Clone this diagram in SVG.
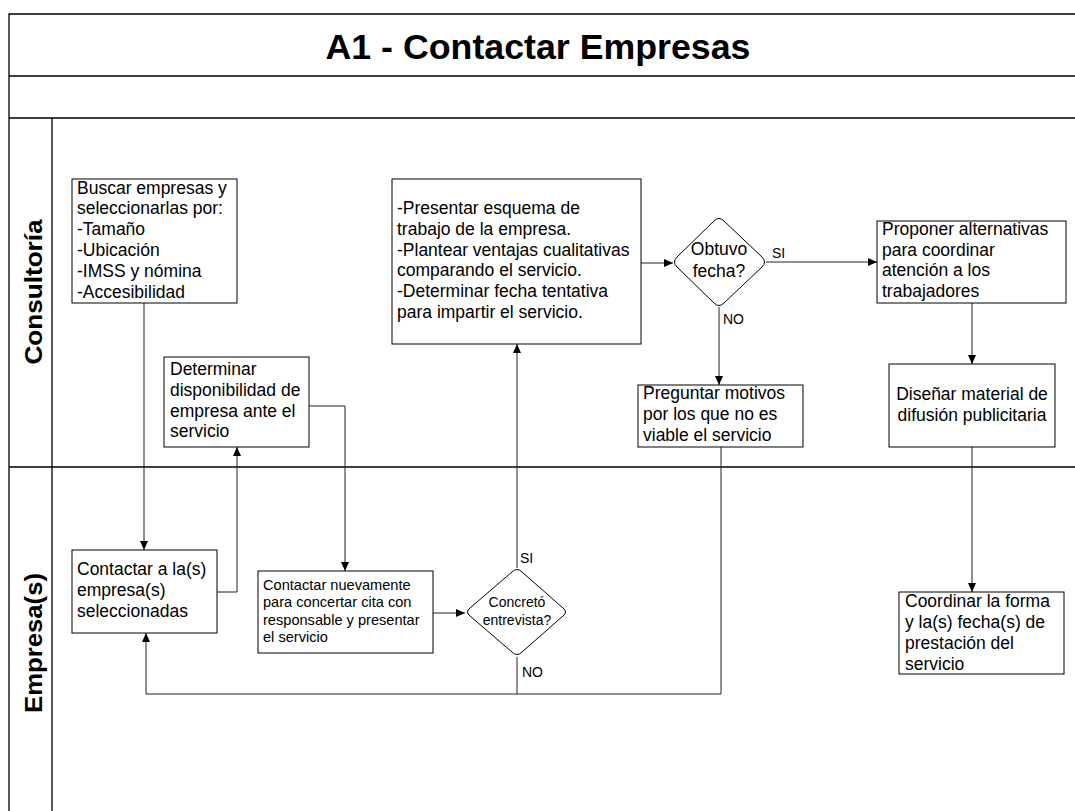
<svg xmlns="http://www.w3.org/2000/svg" width="1075" height="811" viewBox="0 0 1075 811">
<style>
.frame{stroke:#000;stroke-width:1.3;fill:none}
.box{fill:#fff;stroke:#000;stroke-width:1}
.t{font-family:"Liberation Sans",Arial,sans-serif;font-size:17.5px;fill:#000}
.s{font-family:"Liberation Sans",Arial,sans-serif;font-size:14.6px;fill:#000}
.lbl{font-family:"Liberation Sans",Arial,sans-serif;font-size:14px;fill:#000}
.lane{font-family:"Liberation Sans",Arial,sans-serif;font-size:24px;font-weight:bold;fill:#000}
.c{stroke:#222;stroke-width:1;fill:none}
.a{marker-end:url(#arr)}
</style>
<defs>
<marker id="arr" markerWidth="10" markerHeight="10" refX="9" refY="5" orient="auto" markerUnits="userSpaceOnUse">
<path d="M0,1 L9,5 L0,9 Z" fill="#000"/>
</marker>
</defs>
<rect width="1075" height="811" fill="#fff"/>
<g id="frame">
<path class="frame" d="M1075,14 H9 V811 M9,76 H1075 M9,118 H1075 M52,118 V811 M9,467 H1075"/>
<text x="538" y="59" text-anchor="middle" font-family="Liberation Sans, Arial, sans-serif" font-size="35" font-weight="bold" textLength="425" lengthAdjust="spacingAndGlyphs">A1 - Contactar Empresas</text>
<text class="lane" transform="translate(42,292) rotate(-90)" text-anchor="middle" textLength="145" lengthAdjust="spacingAndGlyphs">Consultoría</text>
<text class="lane" transform="translate(42,643) rotate(-90)" text-anchor="middle" textLength="140" lengthAdjust="spacingAndGlyphs">Empresa(s)</text>
</g>
<g id="connectors">
<path class="c a" d="M144,303 V550"/>
<path class="c a" d="M217,592 H237 V447"/>
<path class="c a" d="M309,406 H345 V571"/>
<path class="c a" d="M433,613 H465"/>
<path class="c a" d="M517,568 V344"/>
<path class="c" d="M517,657 V694"/>
<path class="c a" d="M721,447 V694 H146 V633"/>
<path class="c a" d="M641,263 H673"/>
<path class="c a" d="M766,262 H877"/>
<path class="c a" d="M719,307 V385"/>
<path class="c a" d="M972,303 V364"/>
<path class="c a" d="M972,447 V592"/>
<text class="lbl" x="772" y="258">SI</text>
<text class="lbl" x="723" y="324">NO</text>
<text class="lbl" x="520" y="563">SI</text>
<text class="lbl" x="522" y="677">NO</text>
</g>
<g id="buscar">
<rect class="box" x="72" y="179" width="165" height="124"/>
<text class="t" x="77" y="194">Buscar empresas y</text>
<text class="t" x="77" y="214">seleccionarlas por:</text>
<text class="t" x="77" y="235">-Tamaño</text>
<text class="t" x="77" y="256">-Ubicación</text>
<text class="t" x="77" y="277">-IMSS y nómina</text>
<text class="t" x="77" y="298">-Accesibilidad</text>
</g>
<g id="determinar">
<rect class="box" x="164" y="357" width="145" height="90"/>
<text class="t" x="170" y="375">Determinar</text>
<text class="t" x="170" y="396">disponibilidad de</text>
<text class="t" x="170" y="417">empresa ante el</text>
<text class="t" x="170" y="437">servicio</text>
</g>
<g id="presentar">
<rect class="box" x="392" y="179" width="249" height="165"/>
<text class="t" x="397" y="214">-Presentar esquema de</text>
<text class="t" x="397" y="235">trabajo de la empresa.</text>
<text class="t" x="397" y="256">-Plantear ventajas cualitativas</text>
<text class="t" x="397" y="276"> comparando el servicio.</text>
<text class="t" x="397" y="297">-Determinar fecha tentativa</text>
<text class="t" x="397" y="318"> para impartir el servicio.</text>
</g>
<g id="obtuvo">
<path class="box" d="M714,221 Q719,216 724,221 L762,257 Q767,262 762,267 L724,303 Q719,308 714,303 L677,267 Q672,262 677,257 Z"/>
<text class="t" x="719" y="255" text-anchor="middle">Obtuvo</text>
<text class="t" x="719" y="277" text-anchor="middle">fecha?</text>
</g>
<g id="proponer">
<rect class="box" x="877" y="221" width="189" height="82"/>
<text class="t" x="882" y="235">Proponer alternativas</text>
<text class="t" x="882" y="256">para coordinar</text>
<text class="t" x="882" y="276">atención a los</text>
<text class="t" x="882" y="297">trabajadores</text>
</g>
<g id="preguntar">
<rect class="box" x="638" y="385" width="165" height="62"/>
<text class="t" x="643" y="399">Preguntar motivos</text>
<text class="t" x="643" y="420">por los que no es</text>
<text class="t" x="643" y="441">viable el servicio</text>
</g>
<g id="disenar">
<rect class="box" x="889" y="364" width="166" height="83"/>
<text class="t" x="972" y="400" text-anchor="middle">Diseñar material de</text>
<text class="t" x="972" y="421" text-anchor="middle">difusión publicitaria</text>
</g>
<g id="contactar">
<rect class="box" x="72" y="550" width="145" height="83"/>
<text class="t" x="77" y="575">Contactar a la(s)</text>
<text class="t" x="77" y="596">empresa(s)</text>
<text class="t" x="77" y="617">seleccionadas</text>
</g>
<g id="contactar-nuevamente">
<rect class="box" x="258" y="571" width="175" height="82"/>
<text class="s" x="263" y="590">Contactar nuevamente</text>
<text class="s" x="263" y="607">para concertar cita con</text>
<text class="s" x="263" y="625">responsable y presentar</text>
<text class="s" x="263" y="642">el servicio</text>
</g>
<g id="concreto">
<path class="box" d="M512,572 Q517,567 522,572 L563,608 Q568,612 563,616 L522,652 Q517,657 512,652 L470,616 Q465,612 470,608 Z"/>
<text class="lbl" x="517" y="607" text-anchor="middle">Concretó</text>
<text class="lbl" x="517" y="625" text-anchor="middle">entrevista?</text>
</g>
<g id="coordinar">
<rect class="box" x="899" y="592" width="165" height="82"/>
<text class="t" x="905" y="607">Coordinar la forma</text>
<text class="t" x="905" y="628">y la(s) fecha(s) de</text>
<text class="t" x="905" y="649">prestación del</text>
<text class="t" x="905" y="670">servicio</text>
</g>
</svg>
